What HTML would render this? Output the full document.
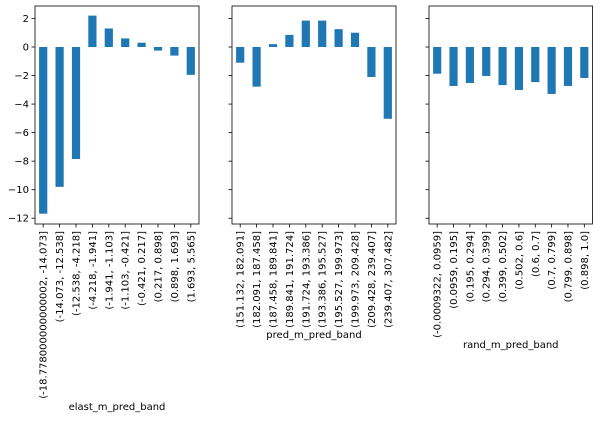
<!DOCTYPE html>
<html><head><meta charset="utf-8"><style>
body{margin:0;background:#fff;}
svg text{font-family:"DejaVu Sans","Liberation Sans",sans-serif;font-size:10px;fill:#000;}
</style></head><body>
<svg id="chart" width="600" height="419" viewBox="0 0 600 419" xmlns="http://www.w3.org/2000/svg"></svg>
<script>
const cats1 = ["(-18.778000000000002, -14.073]","(-14.073, -12.538]","(-12.538, -4.218]","(-4.218, -1.941]","(-1.941, -1.103]","(-1.103, -0.421]","(-0.421, 0.217]","(0.217, 0.898]","(0.898, 1.693]","(1.693, 5.565]"];
const vals1 = [-11.68,-9.8,-7.85,2.2,1.3,0.6,0.3,-0.25,-0.6,-1.95];
const cats2 = ["(151.132, 182.091]","(182.091, 187.458]","(187.458, 189.841]","(189.841, 191.724]","(191.724, 193.386]","(193.386, 195.527]","(195.527, 199.973]","(199.973, 209.428]","(209.428, 239.407]","(239.407, 307.482]"];
const vals2 = [-1.1,-2.78,0.2,0.85,1.85,1.85,1.25,1.0,-2.1,-5.03];
const cats3 = ["(-0.0009322, 0.0959]","(0.0959, 0.195]","(0.195, 0.294]","(0.294, 0.399]","(0.399, 0.502]","(0.502, 0.6]","(0.6, 0.7]","(0.7, 0.799]","(0.799, 0.898]","(0.898, 1.0]"];
const vals3 = [-1.87,-2.73,-2.52,-2.03,-2.67,-3.01,-2.46,-3.29,-2.73,-2.17];
const yTicks = [2,0,-2,-4,-6,-8,-10,-12];
const xTitles = ["elast_m_pred_band","pred_m_pred_band","rand_m_pred_band"];

const NS="http://www.w3.org/2000/svg";
const svg=document.getElementById('chart');
function mk(tag,attrs,parent){const e=document.createElementNS(NS,tag);for(const k in attrs)e.setAttribute(k,attrs[k]);(parent||svg).appendChild(e);return e;}
const top0=6,bot0=224;
function y(v){return 47-v*14.27;}
const panels=[{x0:35,x1:199,cats:cats1,vals:vals1,ty:410},{x0:232,x1:396,cats:cats2,vals:vals2,ty:338},{x0:429,x1:592.5,cats:cats3,vals:vals3,ty:348}];
panels.forEach((p,pi)=>{
  const g=mk('g',{});
  
  
  const n=p.cats.length, step=(p.x1-p.x0)/n;
  const xc=i=>p.x0+(i+0.5)*step;
  p.vals.forEach((v,i)=>{
    const r=mk('rect',{x:xc(i)-step/4,y:Math.min(y(0),y(v)),width:step/2,height:Math.abs(y(v)-y(0)),fill:'#1f77b4'},g);
    
    
  });
  const fr=mk('rect',{x:p.x0,y:top0,width:p.x1-p.x0,height:bot0-top0,fill:'none',stroke:'#000','stroke-width':0.8},g);
  
  
  yTicks.forEach(t=>{
    mk('line',{x1:p.x0-3.5,x2:p.x0,y1:y(t),y2:y(t),stroke:'#000','stroke-width':0.8},g);
    if(pi===0){const tx=mk('text',{x:p.x0-6,y:y(t)+3.5,'text-anchor':'end'},g);tx.textContent=(t<0?'\u2212'+(-t):t);
      
      }
  });
  p.cats.forEach((c,i)=>{
    const x=xc(i);
    mk('line',{x1:x,x2:x,y1:bot0,y2:bot0+3.5,stroke:'#000','stroke-width':0.8},g);
    const tx=mk('text',{x:x+3.5,y:bot0+7,'text-anchor':'end',transform:`rotate(-90 ${x+3.5} ${bot0+7})`},g);
    tx.textContent=c;
    
    
  });
  const t=mk('text',{x:(p.x0+p.x1)/2,y:p.ty,'text-anchor':'middle'},g);
  t.textContent=xTitles[pi];
  
  
});
</script>
</body></html>
